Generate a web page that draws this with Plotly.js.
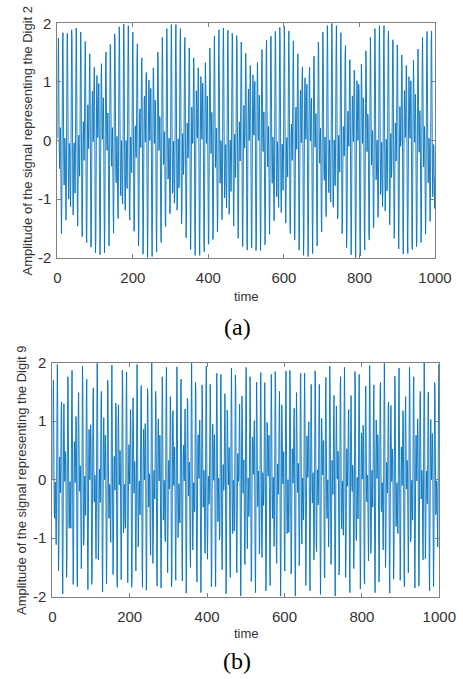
<!DOCTYPE html>
<html>
<head>
<meta charset="utf-8">
<script src="https://cdn.plot.ly/plotly-3.0.1.min.js"></script>
<style>
html,body{margin:0;padding:0;background:#ffffff;}
#chart{width:463px;height:679px;}
</style>
</head>
<body>
<div id="chart"></div>
<script>
// Amplitude of the DTMF signal for digit 2 (one value per sample, samples 1..1000)
const digit2Amplitude = [
.04,1.42,1.75,.98,-.08,-.48,-.15,.22,-.10,-.99,-1.59,-1.08,.33,1.64,1.84,.91,-.28,-.76,-.42,.04,-.15,-.89,-1.36,
-.81,.61,1.80,1.83,.73,-.53,-1.00,-.59,-.05,-.14,-.78,-1.13,-.52,.83,1.89,1.76,.53,-.81,-1.27,-.77,-.10,-.04,-.55,
-.90,-.26,1.02,1.92,1.60,.25,-1.09,-1.46,-.83,-.05,.09,-.35,-.61,-.04,1.11,1.85,1.40,-.03,-1.36,-1.64,-.88,.05,.32,
-.07,-.34,.16,1.16,1.69,1.07,-.41,-1.65,-1.74,-.78,.29,.61,.20,-.14,.23,1.07,1.48,.79,-.67,-1.82,-1.77,-.66,.53,
.84,.39,-.02,.25,.96,1.25,.50,-.92,-1.92,-1.69,-.44,.79,1.11,.59,.05,.16,.75,.97,.24,-1.09,-1.95,-1.57,-.20,
1.07,1.31,.67,.02,.04,.56,.73,0,-1.23,-1.92,-1.36,.10,1.34,1.51,.74,-.07,-.17,.28,.47,-.17,-1.26,-1.80,-1.12,
.48,1.64,1.62,.66,-.28,-.44,0,.22,-.32,-1.24,-1.58,-.76,.75,1.82,1.67,.55,-.50,-.72,-.25,.07,-.32,-1.09,-1.33,
-.46,1.01,1.94,1.60,.35,-.76,-.94,-.41,0,-.30,-.95,-1.08,-.19,1.19,1.99,1.49,.13,-1.04,-1.19,-.56,0,-.15,-.70,
-.82,.06,1.35,1.96,1.30,-.17,-1.30,-1.36,-.59,.06,0,-.49,-.55,.24,1.40,1.85,1.08,-.45,-1.55,-1.51,-.59,.21,.25,
-.20,-.29,.41,1.39,1.65,.72,-.82,-1.80,-1.56,-.46,.46,.54,.07,-.12,.44,1.27,1.41,.44,-1.06,-1.94,-1.54,-.30,.72,
.76,.23,-.03,.43,1.13,1.16,.14,-1.28,-2.00,-1.42,-.06,.98,1.03,.40,0,.31,.89,.88,-.10,-1.42,-1.98,-1.26,.20,
1.24,1.18,.44,-.05,.18,.69,.62,-.33,-1.53,-1.90,-1.01,.51,1.51,1.35,.47,-.17,-.06,.41,.38,-.47,-1.51,-1.74,-.75,
.88,1.76,1.42,.36,-.41,-.34,.13,.15,-.57,-1.43,-1.47,-.37,1.14,1.91,1.42,.21,-.66,-.63,-.11,.04,-.53,-1.25,-1.21,
-.08,1.36,1.98,1.32,-.01,-.90,-.83,-.25,-.01,-.47,-1.07,-.93,.18,1.51,1.98,1.17,-.26,-1.19,-1.07,-.36,.03,-.29,-.81,
-.67,.42,1.63,1.91,.93,-.55,-1.42,-1.19,-.36,.12,-.13,-.58,-.41,.57,1.63,1.76,.68,-.84,-1.66,-1.30,-.32,.30,.13,
-.30,-.17,.70,1.58,1.51,.31,-1.19,-1.86,-1.30,-.14,.57,.43,-.05,-.04,.68,1.41,1.25,.03,-1.41,-1.96,-1.24,.05,.85,
.63,.10,.04,.65,1.24,.97,-.26,-1.59,-1.96,-1.07,.30,1.09,.88,.23,.02,.48,.98,.69,-.48,-1.69,-1.90,-.88,.58,
1.33,1.01,.25,-.05,.33,.76,.44,-.68,-1.75,-1.77,-.61,.88,1.58,1.14,.23,-.22,.07,.48,.22,-.78,-1.69,-1.58,-.33,
1.23,1.78,1.16,.08,-.46,-.22,.21,.02,-.83,-1.56,-1.27,.04,1.46,1.89,1.12,-.10,-.73,-.50,0,-.06,-.75,-1.35,-.99,
.34,1.66,1.92,.97,-.34,-.98,-.68,-.10,-.07,-.67,-1.15,-.72,.57,1.77,1.88,.79,-.61,-1.26,-.89,-.18,.01,-.46,-.87,
-.44,.79,1.83,1.75,.53,-.89,-1.46,-.97,-.16,.11,-.28,-.63,-.21,.90,1.79,1.57,.26,-1.17,-1.67,-1.05,-.08,.32,0,
-.35,.01,.99,1.68,1.27,-.12,-1.49,-1.81,-.99,.13,.60,.28,-.13,.11,.93,1.49,1.00,-.40,-1.68,-1.87,-.89,.35,.88,
.47,0,.15,.86,1.28,.72,-.67,-1.82,-1.83,-.69,.61,1.12,.69,.10,.09,.67,1.01,.44,-.86,-1.88,-1.73,-.47,.89,
1.33,.80,.10,0,.48,.77,.19,-1.02,-1.88,-1.55,-.19,1.17,1.55,.90,.04,-.19,.21,.49,0,-1.08,-1.78,-1.33,.09,
1.49,1.71,.86,-.14,-.45,-.07,.24,-.17,-1.09,-1.60,-.99,.47,1.70,1.78,.78,-.35,-.73,-.34,.06,-.21,-.98,-1.37,-.70,
.75,1.86,1.75,.60,-.60,-.96,-.50,-.02,-.20,-.86,-1.14,-.42,.96,1.93,1.67,.39,-.88,-1.23,-.68,-.06,-.09,-.63,-.85,
-.16,1.15,1.95,1.51,.11,-1.16,-1.41,-.73,0,.05,-.43,-.62,.05,1.22,1.87,1.30,-.17,-1.43,-1.59,-.77,.11,.28,-.14,
-.34,.24,1.25,1.70,.97,-.54,-1.70,-1.68,-.67,.35,.57,.14,-.15,.30,1.15,1.48,.68,-.80,-1.87,-1.70,-.54,.59,.86,
.31,-.04,.32,1.05,1.25,.39,-1.05,-1.96,-1.60,-.30,.85,1.07,.50,.02,.22,.83,.96,.13,-1.22,-1.98,-1.47,-.06,1.14,
1.25,.58,-.01,.11,.63,.72,-.11,-1.34,-1.93,-1.24,.23,1.40,1.44,.64,-.11,-.11,.34,.46,-.28,-1.36,-1.80,-1.00,.52,
1.68,1.55,.55,-.31,-.39,.07,.21,-.40,-1.32,-1.56,-.64,.88,1.85,1.59,.43,-.55,-.68,-.18,.06,-.40,-1.17,-1.30,-.36,
1.14,1.96,1.51,.23,-.80,-.89,-.33,.01,-.36,-1.02,-1.05,-.08,1.31,2.00,1.39,-.01,-1.09,-1.14,-.48,.01,-.21,-.76,-.77,
.18,1.45,1.96,1.19,-.29,-1.34,-1.29,-.50,.09,-.06,-.54,-.53,.35,1.49,1.84,.95,-.58,-1.59,-1.44,-.50,.24,.20,-.26,
-.26,.52,1.48,1.62,.58,-.95,-1.83,-1.46,-.34,.50,.48,0,-.10,.54,1.34,1.38,.30,-1.19,-1.95,-1.43,-.17,.76,.76,
.16,-.02,.52,1.20,1.12,.01,-1.41,-2.00,-1.30,.08,1.02,.96,.32,0,.38,.96,.84,-.23,-1.53,-1.97,-1.13,.34,1.30,
1.12,.37,-.05,.24,.73,.58,-.45,-1.61,-1.87,-.88,.63,1.53,1.28,.39,-.19,0,.45,.34,-.57,-1.58,-1.70,-.62,.91,
1.76,1.32,.26,-.42,-.28,.17,.12,-.67,-1.49,-1.42,-.24,1.25,1.91,1.32,.11,-.67,-.56,-.06,.01,-.62,-1.31,-1.15,.04,
1.47,1.96,1.20,-.13,-.92,-.77,-.17,-.03,-.55,-1.13,-.88,.31,1.62,1.96,1.05,-.38,-1.20,-1.00,-.28,.02,-.37,-.86,-.60,
.54,1.71,1.87,.80,-.67,-1.44,-1.10,-.28,.12,-.20,-.63,-.36,.69,1.71,1.72,.55,-.95,-1.67,-1.21,-.23,.30,.07,-.35,
-.12,.81,1.63,1.45,.17,-1.29,-1.85,-1.19,-.05,.58,.35,-.10,0,.78,1.46,1.19,-.11,-1.50,-1.94,-1.12,.15,.85,.63,
.05,.07,.74,1.28,.91,-.40,-1.68,-1.93,-.94,.41,1.09,.79,.17,.04,.57,1.02,.63,-.61,-1.77,-1.86,-.74,.68,1.37,
.93,.19,-.03,.40,.79,.37,-.80,-1.81,-1.71,-.47,.97,1.56,1.05,.16,-.20,.14,.51,.16,-.89,-1.74,-1.51,-.20,1.25,
1.76,1.05,0,-.45,-.14,.24,-.04,-.94,-1.60,-1.19,.19,1.55,1.86,1.00,-.19,-.72,-.42,.04,-.11,-.85,-1.38,-.91,.45,
1.73,1.87,.85,-.42,-.96,-.61,-.07,-.12,-.75,-1.16,-.63
];

// Amplitude of the DTMF signal for digit 9 (one value per sample, samples 1..1000)
const digit9Amplitude = [
0,1.54,1.70,.58,-.55,-.66,-.13,-.04,-.67,-1.11,-.43,1.07,1.97,1.26,-.44,-1.56,-1.25,-.17,.39,.08,-.22,.30,1.22,1.33,.09,-1.50,-1.95,-.82,.74,1.30,.69,-.03,.02,.48,.32,-.75,-1.67,-1.26,.36,1.76,1.66,.34,-.80,-.83,-.21,-.03,
-.52,-.83,-.09,1.28,1.87,.90,-.85,-1.79,-1.19,.06,
.65,.31,-.05,.34,1.08,1.00,-.29,-1.70,-1.83,-.45,
1.12,1.49,.67,-.19,-.20,.24,.08,-.85,-1.52,-.89,
.76,1.94,1.52,0,-1.12,-1.01,-.24,.06,-.38,-.61,
.14,1.38,1.72,.55,-1.17,-1.88,-1.06,.30,.86,.43,
0,.33,.94,.73,-.57,-1.79,-1.63,-.10,1.40,1.57,
.55,-.38,-.38,.08,-.03,-.86,-1.35,-.56,1.05,1.99,
1.32,-.33,-1.37,-1.07,-.17,.18,-.21,-.39,.33,1.39,
1.51,.20,-1.45,-1.92,-.84,.59,1.06,.51,0,.26,
.76,
.39,-.82,-1.78,-1.33,.32,1.70,1.59,.33,-.66,-.62,
-.08,-.10,-.77,-1.07,-.19,1.31,1.96,.99,-.73,-1.62,
-1.09,-.01,.40,.02,-.18,.45,1.31,1.19,-.21,-1.70,
-1.84,-.52,.95,1.28,.55,-.09,.07,.50,.18,-.95,
-1.71,-1.02,.68,1.87,1.50,.08,-.91,-.76,-.14,-.08,
-.65,-.83,.09,1.46,1.84,.66,-1.06,-1.76,-1.00,.20,
.60,.18,-.07,.50,1.20,.89,-.53,-1.84,-1.70,-.20,
1.24,1.40,.49,-.23,-.09,.31,-.01,-1.02,-1.56,-.70,
1.00,1.97,1.33,-.21,-1.15,-.86,-.13,-.02,-.50,-.60,
.33,
1.52,1.61,.24,-1.41,-1.84,-.81,.50,.86,.34,0,
.43,.96,.55,-.83,-1.89,-1.43,.22,1.56,1.47,.34,
-.47,-.32,.10,-.15,-.98,-1.29,-.30,1.30,2.00,1.05,
-.60,-1.43,-.93,-.04,.16,-.26,-.33,.53,1.51,1.35,
-.12,-1.66,-1.82,-.57,.78,1.04,.40,-.02,.33,.76,
.28,-1.02,-1.85,-1.15,.58,1.76,1.42,.15,-.69,-.49,
-.01,-.20,-.91,-1.06,.02,1.51,1.92,.75,-.92,-1.59,
-.90,.11,.33,-.09,-.16,.62,1.42,1.07,-.46,-1.83,
-1.72,-.28,1.06,1.18,.40,-.10,.20,.56,.04,-1.14,
-1.72,
-.76,.97,1.93,1.29,-.16,-.99,-.67,-.07,-.15,-.72,
-.74,.35,1.63,1.72,.34,-1.30,-1.73,-.78,.36,.59,
.11,-.02,.62,1.21,.70,-.81,-1.94,-1.51,.12,1.39,
1.30,.33,-.28,-.03,.30,-.17,-1.17,-1.50,-.42,1.27,
1.99,1.08,-.46,-1.20,-.74,-.05,-.06,-.55,-.49,.55,
1.66,1.51,-.02,-1.57,-1.75,-.59,.60,.77,.22,.02,
.57,1.02,.40,-1.05,-1.93,-1.25,.46,1.62,1.30,.18,
-.47,-.20,.16,-.27,-1.14,-1.26,-.07,1.54,1.94,.77,
-.80,-1.36,-.72,.06,.04,-.42,-.27,.76,1.63,1.20,
-.43,
-1.83,-1.65,-.25,.93,.95,.26,-.01,.46,.77,.04,
-1.29,-1.83,-.84,.92,1.82,1.19,-.10,-.72,-.37,.03,
-.33,-1.03,-.93,.34,1.72,1.80,.39,-1.18,-1.54,-.67,
.24,.26,-.18,-.05,.83,1.47,.82,-.81,-1.95,-1.50,
.06,1.19,1.05,.24,-.09,.31,.55,-.18,-1.37,-1.67,
-.49,1.23,1.91,1.03,-.36,-.92,-.48,-.01,-.29,-.88,
-.66,.60,1.79,1.59,.03,-1.46,-1.59,-.54,.43,.45,
-.03,.05,.83,1.29,.50,-1.10,-1.99,-1.27,.39,1.43,
1.10,.15,-.23,.14,.34,-.34,-1.37,-1.45,-.13,1.49,
1.92,
.76,-.72,-1.18,-.58,.03,-.16,-.63,-.34,.83,1.76,
1.27,-.39,-1.74,-1.59,-.30,.73,.68,.12,.09,.72,
1.01,.13,-1.34,-1.93,-.93,.79,1.67,1.10,-.03,-.46,
-.09,.15,-.45,-1.27,-1.12,.27,1.72,1.83,.47,-1.02,
-1.33,-.57,.12,-.01,-.44,-.13,.95,1.66,.96,-.74,
-1.90,-1.48,-.03,.98,.81,.15,.06,.59,.76,-.13,
-1.46,-1.81,-.59,1.12,1.80,.99,-.25,-.66,-.24,.04,
-.47,-1.14,-.83,.58,1.85,1.66,.14,-1.31,-1.43,-.49,
.27,.16,-.25,.03,1.01,1.51,.63,-1.05,-1.99,-1.30,
.27,
1.28,.94,.13,-.07,.37,.48,-.38,-1.51,-1.56,-.17,
1.46,1.86,.78,-.56,-.92,-.39,0,-.38,-.90,-.49,
.86,1.87,1.38,-.29,-1.61,-1.48,-.32,.53,.39,-.06,
.15,.95,1.22,.24,-1.34,-1.99,-1.00,.66,1.49,.96,
.01,-.22,.20,.28,-.54,-1.47,-1.29,.19,1.69,1.82,
.53,-.85,-1.10,-.42,.03,-.28,-.69,-.23,1.04,1.82,
1.09,-.64,-1.81,-1.42,-.10,.75,.55,.04,.18,.86,
.99,-.07,-1.52,-1.90,-.69,.99,1.63,.90,-.14,-.40,
.03,.12,-.61,-1.37,-1.01,.52,1.86,1.69,.22,-1.12,
-1.23,
-.41,.17,-.07,-.43,.03,1.13,1.63,.70,-1.03,-1.96,
-1.26,.22,1.05,.72,.08,.11,.66,.67,-.38,-1.63,
-1.68,-.27,1.36,1.75,.77,-.41,-.66,-.16,0,-.59,
-1.15,-.64,.86,1.94,1.46,-.18,-1.45,-1.33,-.31,.33,
.10,-.25,.18,1.15,1.44,.35,-1.31,-1.99,-1.05,.53,
1.26,.78,.04,.01,.49,.43,-.58,-1.63,-1.45,.08,
1.62,1.76,.55,-.66,-.84,-.25,-.02,-.53,-.95,-.34,
1.07,1.92,1.20,-.53,-1.67,-1.32,-.15,.53,.26,-.11,
.27,1.09,1.20,.01,-1.54,-1.93,-.76,.85,1.44,.78,
-.07,
-.20,.25,.18,-.71,-1.52,-1.10,.50,1.85,1.67,.24,
-1.00,-1.04,-.31,.04,-.35,-.67,-.03,1.24,1.80,.81,
-.94,-1.87,-1.23,.12,.80,.47,.01,.27,.93,.87,
-.34,-1.70,-1.78,-.38,1.23,1.60,.71,-.27,-.38,.08,
.05,-.77,-1.39,-.78,.81,1.95,1.51,-.07,-1.26,-1.14,
-.27,.16,-.20,-.47,.18,1.30,1.62,.46,-1.25,-1.93,
-1.05,.40,1.02,.57,.02,.22,.77,.60,-.59,-1.75,
-1.57,-.02,1.51,1.66,.55,-.49,-.55,-.06,-.05,-.74,
-1.20,-.46,1.08,1.99,1.27,-.42,-1.50,-1.17,-.17,.30,
-.03,
-.23,.34,1.26,1.33,.05,-1.54,-1.94,-.77,.77,1.27,
.64,-.03,.06,.52,.31,-.80,-1.70,-1.24,.40,1.77,
1.63,.30,-.80,-.78,-.18,-.05,-.62,-.92,-.11,1.30,
1.91,.91,-.83,-1.72,-1.14,.04,.56,.20,-.10,.40,
1.18,1.06,-.28,-1.72,-1.83,-.46,1.07,1.42,.62,-.16,
-.09,.33,.11,-.90,-1.59,-.92,.75,1.92,1.51,.02,
-1.06,-.91,-.20,-.01,-.49,-.69,.15,1.42,1.76,.58,
-1.15,-1.85,-1.02,.28,.76,.33,-.02,.40,1.04,.78,
-.57,-1.82,-1.66,-.12,1.35,1.51,.53,-.33,-.26,.16,
-.04,
-.91,-1.37,-.53,1.09,2.00,1.27,-.37,-1.35,-1.02,-.14,
.15,-.26,-.41,.37,1.44,1.50,.16,-1.48,-1.90,-.79,
.61,1.03,.46,0,.30,.79,.44,-.83,-1.83,-1.36,
.31,1.66,1.54,.33,-.60,-.50,-.02,-.13,-.86,-1.15,
-.21,1.33,1.97,1.00
];

const xTickValues = [0, 200, 400, 600, 800, 1000];
const yTickValues = [-2, -1, 0, 1, 2];
const yTitleA = "Amplitude of the signal representing the Digit 2";
const yTitleB = "Amplitude of the signal representing the Digit 9";
const xTitleText = "time";
const captionA = "(a)";
const captionB = "(b)";

const sampleIndexA = digit2Amplitude.map((_, i) => i + 1);
const sampleIndexB = digit9Amplitude.map((_, i) => i + 1);

const W = 463, H = 679;
const lineBlue = "#0072BD";
const axisGray = "#7f7f7f";
const textGray = "#333333";
const sans = "Liberation Sans, Arial, Helvetica, sans-serif";

function px(x) { return x / W; }
function py(y) { return 1 - y / H; }

const traces = [
  { x: sampleIndexA, y: digit2Amplitude, xaxis: "x", yaxis: "y", type: "scatter", mode: "lines",
    line: { color: lineBlue, width: 0.9, simplify: false }, hoverinfo: "skip" },
  { x: sampleIndexB, y: digit9Amplitude, xaxis: "x2", yaxis: "y2", type: "scatter", mode: "lines",
    line: { color: lineBlue, width: 0.9, simplify: false }, hoverinfo: "skip" }
];

function xAxis(domain, anchor) {
  return {
    domain: domain, anchor: anchor, range: [0, 1000], tickmode: "array", tickvals: xTickValues,
    ticktext: xTickValues.map(String), ticks: "inside", ticklen: 4, tickwidth: 1, tickcolor: axisGray,
    showline: true, linecolor: axisGray, linewidth: 1, mirror: "ticks", showgrid: false, zeroline: false,
    tickfont: { family: sans, size: 15, color: textGray }, ticklabelstandoff: 6
  };
}
function yAxis(domain, anchor) {
  return {
    domain: domain, anchor: anchor, range: [-2, 2], tickmode: "array", tickvals: yTickValues,
    ticktext: yTickValues.map(String), ticks: "inside", ticklen: 4, tickwidth: 1, tickcolor: axisGray,
    showline: true, linecolor: axisGray, linewidth: 1, mirror: "ticks", showgrid: false, zeroline: false,
    tickfont: { family: sans, size: 15, color: textGray }, ticklabelstandoff: 2
  };
}

const layout = {
  width: W, height: H,
  margin: { l: 0, r: 0, t: 0, b: 0, pad: 0 },
  paper_bgcolor: "#ffffff", plot_bgcolor: "#ffffff",
  showlegend: false,
  xaxis: xAxis([px(57.3), px(435)], "y"),
  yaxis: yAxis([py(257.7), py(23.3)], "x"),
  xaxis2: xAxis([px(52.3), px(439.3)], "y2"),
  yaxis2: yAxis([py(596.7), py(362.7)], "x2"),
  annotations: [
    { text: yTitleA, x: px(27), y: py(140.5), xref: "paper", yref: "paper", showarrow: false, textangle: -90,
      xanchor: "center", yanchor: "middle", font: { family: sans, size: 13, color: textGray } },
    { text: yTitleB, x: px(21.3), y: py(479.7), xref: "paper", yref: "paper", showarrow: false, textangle: -90,
      xanchor: "center", yanchor: "middle", font: { family: sans, size: 13, color: textGray } },
    { text: xTitleText, x: px(246), y: py(296), xref: "paper", yref: "paper", showarrow: false,
      xanchor: "center", yanchor: "middle", font: { family: sans, size: 13, color: textGray } },
    { text: xTitleText, x: px(246), y: py(633), xref: "paper", yref: "paper", showarrow: false,
      xanchor: "center", yanchor: "middle", font: { family: sans, size: 13, color: textGray } },
    { text: captionA, x: px(237), y: py(327), xref: "paper", yref: "paper", showarrow: false,
      xanchor: "center", yanchor: "middle", font: { family: "Liberation Serif, Times New Roman, serif", size: 24, color: "#000000" } },
    { text: captionB, x: px(237), y: py(661), xref: "paper", yref: "paper", showarrow: false,
      xanchor: "center", yanchor: "middle", font: { family: "Liberation Serif, Times New Roman, serif", size: 24, color: "#000000" } }
  ]
};

Plotly.newPlot("chart", traces, layout, { staticPlot: true, displayModeBar: false });
</script>
</body>
</html>
